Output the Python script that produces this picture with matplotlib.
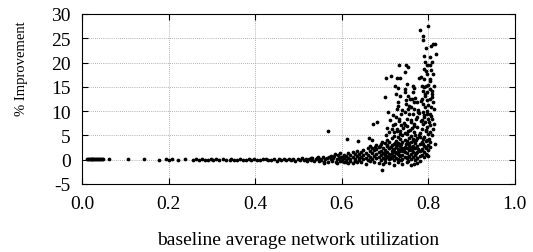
import numpy as np
import matplotlib.pyplot as plt

plt.rcParams['font.family'] = ['Liberation Serif', 'DejaVu Serif']
plt.rcParams['axes.unicode_minus'] = False

# low utilization: almost no change
low_x = [0.012, 0.014, 0.016, 0.018, 0.020, 0.022, 0.024, 0.026, 0.028, 0.030,
         0.032, 0.034, 0.036, 0.038, 0.041, 0.044, 0.047, 0.049, 0.063, 0.107,
         0.142, 0.178, 0.195, 0.201, 0.207, 0.222, 0.238, 0.257, 0.263, 0.270,
         0.278, 0.283, 0.290, 0.297, 0.302, 0.309, 0.316, 0.326, 0.333]
low_y = [0.1, 0.2, 0.1, 0.2, 0.1, 0.2, 0.1, 0.1, 0.2, 0.1,
         0.2, 0.1, 0.1, 0.2, 0.1, 0.1, 0.2, 0.1, 0.1, 0.1,
         0.1, 0.0, 0.1, 0.0, 0.1, 0.0, 0.1, 0.0, 0.1, 0.0,
         0.1, -0.1, 0.0, 0.1, 0.0, 0.1, -0.1, 0.1, 0.0]

# 0.34 - 0.60
mid_x = [0.341, 0.345, 0.352, 0.358, 0.365, 0.372, 0.378, 0.385, 0.390, 0.398,
         0.405, 0.410, 0.418, 0.425, 0.430, 0.437, 0.443, 0.450, 0.455, 0.460,
         0.466, 0.472, 0.478, 0.483, 0.488, 0.493, 0.498, 0.503, 0.508, 0.512,
         0.517, 0.520, 0.524, 0.528, 0.532, 0.536, 0.540, 0.543, 0.547, 0.550,
         0.553, 0.556, 0.559, 0.562, 0.565, 0.568, 0.571, 0.574, 0.577, 0.580,
         0.583, 0.586, 0.589, 0.592, 0.595, 0.598, 0.569, 0.575, 0.585, 0.590,
         0.596, 0.560, 0.545, 0.530, 0.593]
mid_y = [0.0, 0.1, -0.1, 0.0, 0.1, 0.0, -0.1, 0.1, 0.0, 0.1,
         -0.1, 0.0, 0.1, 0.2, -0.1, 0.0, 0.1, -0.2, 0.1, 0.0,
         0.2, -0.1, 0.1, 0.0, 0.2, -0.2, 0.1, 0.0, 0.3, -0.1,
         0.1, -0.3, 0.2, 0.0, 0.3, -0.2, 0.1, 0.4, -0.3, 0.2,
         0.0, 0.5, -0.4, 0.2, 0.3, -0.5, 0.6, 0.1, -0.3, 0.4,
         0.8, -0.5, 0.2, 0.9, -0.2, 0.5, 6.0, 0.7, 1.1, -0.7,
         1.3, -0.6, 0.6, 0.4, 0.3]

# 0.60 - 0.80: dense lower part of the cloud
base_x = [0.600, 0.600, 0.600, 0.605, 0.605, 0.605, 0.610, 0.610, 0.610,
          0.615, 0.615, 0.615, 0.620, 0.620, 0.620, 0.625, 0.625, 0.625,
          0.630, 0.630, 0.630, 0.635, 0.635, 0.635, 0.640, 0.640, 0.640,
          0.645, 0.645, 0.645, 0.650, 0.650, 0.650, 0.655, 0.655, 0.655,
          0.660, 0.660, 0.660, 0.665, 0.665, 0.665, 0.670, 0.670, 0.670,
          0.675, 0.675, 0.675, 0.680, 0.680, 0.680, 0.680, 0.685, 0.685, 0.685, 0.685,
          0.690, 0.690, 0.690, 0.690, 0.695, 0.695, 0.695, 0.695,
          0.700, 0.700, 0.700, 0.700, 0.700, 0.705, 0.705, 0.705, 0.705,
          0.710, 0.710, 0.710, 0.710, 0.710, 0.715, 0.715, 0.715, 0.715,
          0.720, 0.720, 0.720, 0.720, 0.720, 0.720, 0.725, 0.725, 0.725, 0.725,
          0.730, 0.730, 0.730, 0.730, 0.730, 0.730, 0.735, 0.735, 0.735, 0.735,
          0.740, 0.740, 0.740, 0.740, 0.740, 0.740, 0.745, 0.745, 0.745, 0.745,
          0.750, 0.750, 0.750, 0.750, 0.750, 0.750, 0.755, 0.755, 0.755, 0.755,
          0.760, 0.760, 0.760, 0.760, 0.760, 0.760, 0.765, 0.765, 0.765, 0.765,
          0.770, 0.770, 0.770, 0.770, 0.770, 0.775, 0.775, 0.775, 0.775, 0.775,
          0.780, 0.780, 0.780, 0.780, 0.785, 0.785, 0.785, 0.790, 0.790, 0.790,
          0.795, 0.795, 0.795, 0.800, 0.800, 0.800,
          0.702, 0.712, 0.722, 0.733, 0.742, 0.753, 0.763, 0.772, 0.708, 0.718,
          0.728, 0.738, 0.748, 0.758, 0.768, 0.694, 0.768, 0.781]
base_y = [0.2, -0.3, 0.6, -0.5, 0.3, 1.0, 0.0, 0.8, -0.4,
          0.4, 1.3, -0.7, 0.1, 0.9, -0.2, 0.5, 1.5, -0.6,
          0.2, 1.1, -0.3, 0.7, 1.8, -0.5, 0.3, 1.2, 0.0,
          0.6, 1.6, -0.4, 0.1, 0.9, 2.0, 0.4, 1.4, -0.8,
          0.0, 1.0, 2.3, 0.6, 1.7, -0.3, 0.2, 1.3, 2.5,
          0.8, 1.9, -0.5, 0.3, 1.1, 2.2, 3.0, 0.5, 1.5, 2.7, -0.6,
          0.0, 0.9, 1.8, 3.2, 0.4, 1.4, 2.4, -0.9,
          0.2, 1.0, 2.0, 3.4, -0.4, 0.6, 1.6, 2.8, 4.1,
          0.1, 1.2, 2.3, 3.6, -0.7, 0.5, 1.8, 3.0, 4.4,
          0.0, 0.8, 2.1, 3.3, 4.8, -1.0, 0.4, 1.4, 2.6, 3.9,
          0.2, 1.1, 2.2, 3.5, 4.6, -0.5, 0.7, 1.7, 2.9, 4.2,
          0.1, 1.0, 2.4, 3.7, 5.0, -0.8, 0.5, 1.5, 2.7, 4.0,
          0.3, 1.3, 2.5, 3.8, 5.2, -0.4, 0.8, 1.9, 3.1, 4.5,
          0.2, 1.2, 2.2, 3.6, 4.9, -1.2, 0.6, 1.6, 2.8, 4.2,
          0.0, 1.0, 2.3, 3.4, 5.1, 0.4, 1.5, 2.9, 4.4, -0.6,
          0.7, 1.8, 3.2, 4.7, 0.9, 2.1, 3.6, 0.5, 1.6, 2.9,
          1.2, 2.4, 3.8, 0.8, 2.0, 3.1,
          0.7, 0.4, 1.6, 0.9, 1.8, 0.6, 2.0, 1.4, 2.5, 1.9,
          3.0, 2.2, 3.3, 2.6, 3.9, -2.1, -0.8, -0.3]

# extra scattered points inside the 0.70 - 0.81 cloud
extra_x = [0.701, 0.704, 0.709, 0.713, 0.717, 0.721, 0.724, 0.727, 0.731, 0.734,
           0.737, 0.741, 0.744, 0.747, 0.751, 0.754, 0.757, 0.761, 0.764, 0.767,
           0.771, 0.774, 0.777, 0.781, 0.784, 0.787, 0.791, 0.794, 0.797, 0.802,
           0.806, 0.809, 0.703, 0.716, 0.726, 0.739, 0.743, 0.756, 0.762, 0.776,
           0.783, 0.793, 0.799, 0.808, 0.719, 0.732, 0.749, 0.759, 0.769, 0.779,
           0.711, 0.729, 0.746, 0.766, 0.786, 0.803, 0.714, 0.736, 0.752, 0.773]
extra_y = [1.3, 3.1, 0.5, 2.7, 1.1, 5.6, 3.4, 6.3, 1.5, 5.8,
           3.2, 6.6, 2.1, 5.4, 7.0, 3.5, 6.2, 8.1, 2.5, 6.9,
           4.0, 8.7, 2.2, 5.5, 7.9, 4.3, 9.2, 6.1, 10.1, 7.8,
           9.0, 12.9, 5.1, 6.4, 8.8, 10.2, 7.5, 11.1, 6.5, 10.3,
           12.0, 13.5, 11.3, 14.1, 9.1, 7.9, 12.2, 10.9, 12.6, 9.6,
           8.2, 11.0, 13.9, 11.9, 8.1, 16.2, 0.3, 0.0, -0.2, 0.4]

# 0.60 - 0.82: upper part of the cloud
high_x = [0.612, 0.638, 0.662, 0.669, 0.672, 0.682, 0.665, 0.677, 0.688, 0.692,
          0.700, 0.705, 0.707, 0.703, 0.713, 0.718, 0.710,
          0.732, 0.727, 0.735, 0.723, 0.729, 0.725, 0.735, 0.731, 0.727, 0.737,
          0.733, 0.724, 0.738, 0.728, 0.735,
          0.748, 0.752, 0.745, 0.750, 0.746, 0.754, 0.758, 0.748, 0.752, 0.745,
          0.756, 0.750, 0.760, 0.746, 0.754,
          0.780, 0.765, 0.768, 0.765, 0.762, 0.773, 0.768, 0.764, 0.777, 0.771,
          0.766, 0.773, 0.768, 0.779, 0.779, 0.782,
          0.787, 0.788, 0.795, 0.789, 0.792, 0.796, 0.790, 0.795, 0.798, 0.791,
          0.785, 0.790, 0.795, 0.800, 0.787, 0.796, 0.792, 0.785, 0.798, 0.788,
          0.793, 0.787, 0.796, 0.790, 0.800, 0.792, 0.788, 0.796, 0.785, 0.795,
          0.800, 0.790, 0.798, 0.788, 0.795, 0.785, 0.796,
          0.811, 0.815, 0.806, 0.818, 0.805, 0.809, 0.804, 0.807, 0.811, 0.805,
          0.812, 0.804, 0.809, 0.805, 0.811, 0.807, 0.812, 0.804, 0.809, 0.812,
          0.805, 0.810, 0.804, 0.808, 0.802, 0.815, 0.805, 0.803]
high_y = [4.3, 3.8, 4.5, 4.0, 7.4, 7.7, 2.9, 2.6, 2.9, 3.6,
          12.9, 6.5, 9.8, 16.8, 17.3, 7.1, 5.6,
          19.4, 16.8, 16.8, 15.1, 14.7, 13.6, 13.2, 11.8, 10.5, 9.5,
          8.4, 7.4, 7.1, 6.0, 5.3,
          19.4, 19.0, 18.0, 15.6, 14.6, 13.2, 12.5, 11.5, 10.5, 9.8,
          9.5, 8.4, 7.7, 7.1, 6.0,
          26.7, 15.1, 14.7, 13.9, 12.5, 11.8, 10.5, 9.5, 9.8, 8.4,
          7.4, 6.7, 5.7, 5.0, 16.8, 17.0,
          25.4, 24.7, 23.0, 21.4, 20.1, 19.4, 18.7, 18.2, 17.7, 16.6,
          15.1, 14.9, 15.1, 15.4, 14.2, 13.9, 13.2, 12.5, 12.2, 11.5,
          10.8, 9.8, 9.5, 8.8, 8.4, 7.7, 7.4, 6.7, 6.4, 5.8,
          5.3, 4.7, 4.0, 3.3, 2.6, 1.9, 0.9,
          23.8, 23.8, 23.5, 21.7, 21.1, 20.1, 19.4, 18.4, 17.7, 16.6,
          15.1, 14.6, 13.6, 12.5, 11.8, 10.8, 10.5, 9.5, 8.4, 7.4,
          7.1, 6.4, 5.7, 5.0, 4.3, 3.2, 3.6, 2.6]
top_x = [0.800]
top_y = [27.6]

fig = plt.figure(figsize=(5.33, 2.53), dpi=100)
ax = fig.add_axes([0.154, 0.269, 0.812, 0.672])

for xs, ys in [(low_x, low_y), (mid_x, mid_y), (base_x, base_y),
               (extra_x, extra_y), (high_x, high_y), (top_x, top_y)]:
    ax.plot(xs, ys, 'o', color='black', markersize=2.7, markeredgewidth=0)

ax.set_xlim(0, 1)
ax.set_ylim(-5, 30)
ax.set_xticks(np.arange(0, 1.01, 0.2))
ax.set_xticklabels(['0.0', '0.2', '0.4', '0.6', '0.8', '1.0'])
ax.set_yticks(np.arange(-5, 31, 5))
ax.grid(True, color='#999999', linestyle=(0, (1, 1.5)), linewidth=0.6)
ax.tick_params(direction='in', length=4, labelsize=14, pad=8,
               top=True, right=True)
ax.set_xlabel('baseline average network utilization', fontsize=14, labelpad=14)
fig.text(0.04, 1 - 69 / 253, '% Improvement', rotation=90, fontsize=10.5,
         ha='center', va='center')

fig.savefig('out.png', dpi=100)
